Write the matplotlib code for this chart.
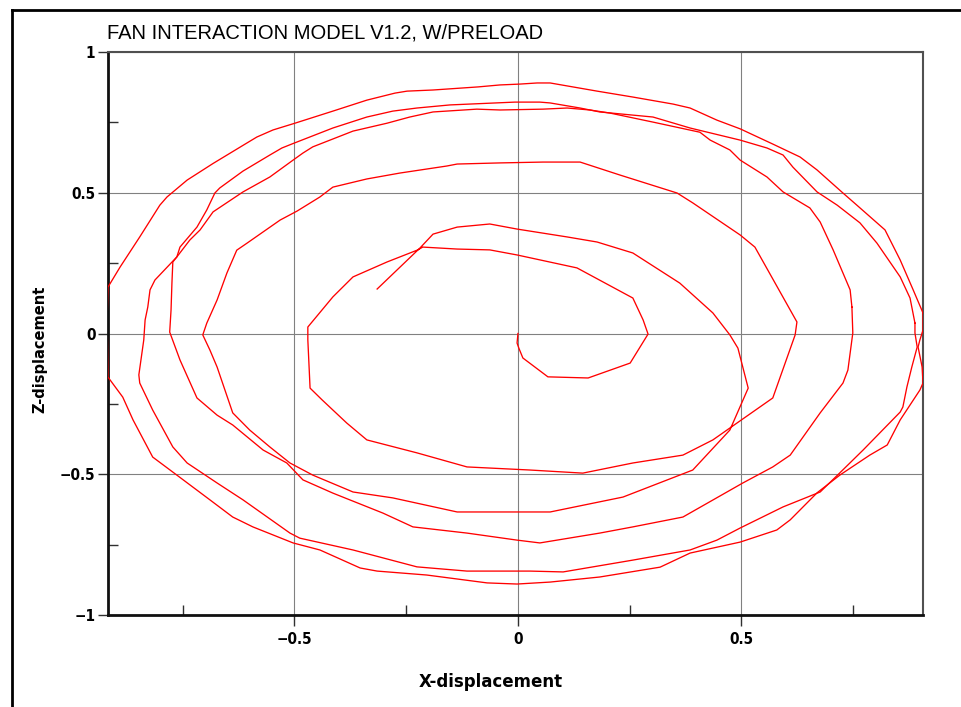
import matplotlib
matplotlib.use('Agg')
import matplotlib.pyplot as plt
from matplotlib import font_manager
from matplotlib.lines import Line2D
from matplotlib.ticker import MultipleLocator

title = 'FAN INTERACTION MODEL V1.2, W/PRELOAD'
x_label = 'X-displacement'
z_label = 'Z-displacement'

# inner trajectory: starts at the origin, grows, then winds back in
inner_x = [0.000, -0.002, 0.002, 0.011, 0.067, 0.157, 0.251, 0.291, 0.280, 0.257,
           0.132, -0.002, -0.063, -0.136, -0.213, -0.224, -0.293, -0.369, -0.414, -0.470,
           -0.470, -0.465, -0.438, -0.383, -0.338, -0.226, -0.114, 0.027, 0.145, 0.257,
           0.369, 0.436, 0.570, 0.620, 0.624, 0.530, 0.497, 0.391, 0.356, 0.228,
           0.139, 0.056, -0.040, -0.136, -0.159, -0.264, -0.338, -0.414, -0.443, -0.494,
           -0.532, -0.606, -0.629, -0.651, -0.673, -0.696, -0.705, -0.689, -0.673, -0.638,
           -0.600, -0.555, -0.510, -0.459, -0.369, -0.280, -0.136, 0.072, 0.235, 0.391,
           0.474, 0.515, 0.492, 0.474, 0.436, 0.362, 0.257, 0.177, 0.110, -0.002,
           -0.063, -0.136, -0.190, -0.219, -0.315]
inner_z = [0.000, -0.034, -0.052, -0.087, -0.154, -0.158, -0.105, -0.002, 0.048, 0.126,
           0.233, 0.279, 0.297, 0.300, 0.307, 0.297, 0.254, 0.201, 0.130, 0.023,
           -0.023, -0.194, -0.236, -0.318, -0.378, -0.424, -0.474, -0.485, -0.496, -0.460,
           -0.432, -0.378, -0.229, -0.005, 0.041, 0.307, 0.350, 0.464, 0.499, 0.563,
           0.609, 0.609, 0.606, 0.602, 0.595, 0.570, 0.549, 0.520, 0.485, 0.435,
           0.403, 0.321, 0.296, 0.215, 0.119, 0.037, -0.005, -0.059, -0.119, -0.282,
           -0.343, -0.403, -0.460, -0.503, -0.563, -0.584, -0.634, -0.634, -0.581, -0.485,
           -0.343, -0.194, -0.052, -0.005, 0.073, 0.179, 0.286, 0.325, 0.343, 0.371,
           0.389, 0.378, 0.353, 0.304, 0.158]

# outermost orbit
orbit1_x = [0.906, 0.884, 0.855, 0.821, 0.758, 0.727, 0.669, 0.631, 0.570, 0.497,
            0.445, 0.385, 0.347, 0.257, 0.177, 0.072, 0.043, 0.004, -0.040, -0.089,
            -0.190, -0.248, -0.275, -0.338, -0.414, -0.499, -0.548, -0.584, -0.606, -0.682,
            -0.740, -0.785, -0.801, -0.846, -0.890, -0.917, -0.919, -0.917, -0.884, -0.861,
            -0.817, -0.763, -0.689, -0.638, -0.593, -0.503, -0.443, -0.353, -0.315, -0.204,
            -0.069, -0.002, 0.072, 0.183, 0.318, 0.385, 0.497, 0.579, 0.609, 0.669,
            0.720, 0.787, 0.826, 0.855, 0.899, 0.906, 0.904, 0.895, 0.899, 0.906,
            0.906]
orbit1_z = [0.073, 0.155, 0.261, 0.368, 0.456, 0.499, 0.581, 0.627, 0.673, 0.727,
            0.758, 0.801, 0.815, 0.840, 0.861, 0.890, 0.890, 0.886, 0.883, 0.876,
            0.865, 0.861, 0.854, 0.829, 0.790, 0.747, 0.723, 0.698, 0.677, 0.604,
            0.545, 0.485, 0.456, 0.343, 0.236, 0.165, 0.048, -0.155, -0.226, -0.307,
            -0.439, -0.503, -0.591, -0.652, -0.687, -0.744, -0.769, -0.833, -0.844, -0.858,
            -0.886, -0.890, -0.883, -0.865, -0.830, -0.780, -0.741, -0.698, -0.662, -0.566,
            -0.503, -0.432, -0.396, -0.307, -0.201, -0.176, -0.119, -0.048, -0.023, 0.012,
            0.073]

# middle orbit
orbit2_x = [0.888, 0.877, 0.855, 0.803, 0.765, 0.714, 0.669, 0.615, 0.593, 0.557,
            0.497, 0.385, 0.302, 0.183, 0.139, 0.072, 0.049, -0.007, -0.152, -0.226,
            -0.280, -0.338, -0.414, -0.506, -0.528, -0.555, -0.615, -0.667, -0.678, -0.696,
            -0.718, -0.756, -0.763, -0.812, -0.823, -0.828, -0.834, -0.837, -0.848, -0.846,
            -0.817, -0.772, -0.740, -0.673, -0.615, -0.510, -0.488, -0.369, -0.226, -0.114,
            0.027, 0.101, 0.257, 0.385, 0.445, 0.497, 0.593, 0.676, 0.720, 0.772,
            0.855, 0.861, 0.870, 0.881, 0.893, 0.888, 0.888]
orbit2_z = [0.037, 0.126, 0.201, 0.321, 0.393, 0.456, 0.503, 0.591, 0.634, 0.659,
            0.687, 0.730, 0.769, 0.787, 0.801, 0.819, 0.822, 0.822, 0.812, 0.801,
            0.790, 0.769, 0.730, 0.673, 0.659, 0.634, 0.577, 0.517, 0.499, 0.439,
            0.378, 0.307, 0.272, 0.190, 0.155, 0.094, 0.048, -0.023, -0.147, -0.176,
            -0.272, -0.403, -0.460, -0.531, -0.591, -0.709, -0.727, -0.769, -0.829, -0.844,
            -0.844, -0.847, -0.805, -0.769, -0.734, -0.691, -0.616, -0.563, -0.495, -0.414,
            -0.279, -0.261, -0.190, -0.119, -0.048, 0.002, 0.037]

# inner of the three outer orbits
orbit3_x = [0.747, 0.743, 0.705, 0.676, 0.653, 0.593, 0.557, 0.497, 0.474, 0.430,
            0.407, 0.302, 0.206, 0.161, 0.110, 0.056, -0.040, -0.092, -0.190, -0.242,
            -0.293, -0.369, -0.459, -0.481, -0.503, -0.555, -0.615, -0.682, -0.711, -0.734,
            -0.763, -0.772, -0.774, -0.776, -0.779, -0.756, -0.718, -0.673, -0.638, -0.570,
            -0.517, -0.481, -0.414, -0.302, -0.235, -0.114, -0.002, 0.049, 0.183, 0.257,
            0.369, 0.503, 0.570, 0.609, 0.676, 0.727, 0.738, 0.749, 0.747]
orbit3_z = [0.094, 0.155, 0.297, 0.396, 0.446, 0.503, 0.556, 0.616, 0.652, 0.687,
            0.715, 0.751, 0.783, 0.794, 0.801, 0.797, 0.794, 0.797, 0.787, 0.769,
            0.747, 0.719, 0.663, 0.641, 0.616, 0.556, 0.503, 0.432, 0.368, 0.332,
            0.272, 0.254, 0.179, 0.083, 0.005, -0.094, -0.229, -0.290, -0.325, -0.414,
            -0.460, -0.520, -0.567, -0.638, -0.687, -0.709, -0.734, -0.744, -0.709, -0.687,
            -0.652, -0.531, -0.474, -0.432, -0.282, -0.176, -0.130, 0.002, 0.094]

x_ticks = [-0.5, 0, 0.5]
x_tick_labels = ['\u22120.5', '0', '0.5']
z_ticks = [-1, -0.5, 0, 0.5, 1]
z_tick_labels = ['\u22121', '\u22120.5', '0', '0.5', '1']

names = {f.name for f in font_manager.fontManager.ttflist}
plain = 'Liberation Sans' if 'Liberation Sans' in names else 'DejaVu Sans'

fig = plt.figure(figsize=(9.61, 7.07), dpi=100)
fig.patch.set_facecolor('white')
ax = fig.add_axes([108 / 961, 92 / 707, 815 / 961, 563 / 707])

for xs, zs in [(orbit1_x, orbit1_z), (orbit2_x, orbit2_z),
               (orbit3_x, orbit3_z), (inner_x, inner_z)]:
    ax.plot(xs, zs, color='#ff0000', lw=0.95, zorder=3)

ax.set_xlim(-0.917, 0.906)
ax.set_ylim(-1, 1)
ax.set_xticks(x_ticks)
ax.set_xticklabels(x_tick_labels)
ax.set_yticks(z_ticks)
ax.set_yticklabels(z_tick_labels)
ax.xaxis.set_minor_locator(MultipleLocator(0.25))
ax.yaxis.set_minor_locator(MultipleLocator(0.25))

ax.grid(True, which='major', color='#808080', lw=0.8, zorder=1)
ax.tick_params(axis='x', which='major', direction='out', length=8, width=1,
               color='#303030', pad=4)
ax.tick_params(axis='y', which='major', direction='out', length=7, width=1,
               color='#303030', pad=2)
ax.tick_params(which='minor', direction='in', length=7, width=1, color='#303030')
for lab in ax.get_xticklabels() + ax.get_yticklabels():
    lab.set_fontfamily('DejaVu Sans')
    lab.set_fontstretch('condensed')
    lab.set_fontweight('bold')
    lab.set_fontsize(11)

for side in ['left', 'bottom']:
    ax.spines[side].set_color('#101010')
    ax.spines[side].set_linewidth(2)
for side in ['top', 'right']:
    ax.spines[side].set_color('#505050')
    ax.spines[side].set_linewidth(1.5)

fig.text(107 / 961, 1 - 33 / 707, title, fontsize=14.5, family=plain,
         ha='left', va='center')
fig.text(491 / 961, 1 - 682 / 707, x_label, fontsize=12, family='DejaVu Sans',
         fontweight='bold', ha='center', va='center')
fig.text(40 / 961, 1 - 349 / 707, z_label, fontsize=10.5, family='DejaVu Sans',
         fontweight='bold', ha='center', va='center', rotation=90)

# page frame around the plot (runs off the right and bottom edges)
fig.add_artist(Line2D([12 / 961, 1], [1 - 10 / 707, 1 - 10 / 707],
                      color='black', lw=2, transform=fig.transFigure))
fig.add_artist(Line2D([12 / 961, 12 / 961], [0, 1 - 10 / 707],
                      color='black', lw=2, transform=fig.transFigure))

fig.savefig('out.png', dpi=100, facecolor='white')
